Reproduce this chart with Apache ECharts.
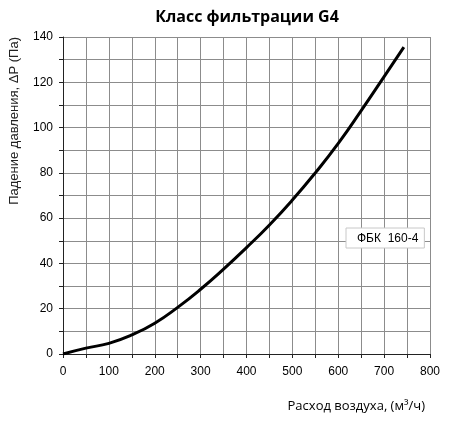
<!DOCTYPE html>
<html>
<head>
  <meta charset="utf-8">
  <title>Класс фильтрации G4</title>
  <script src="https://cdn.jsdelivr.net/npm/echarts@6/dist/echarts.min.js"></script>
  <style>
    html, body { margin: 0; padding: 0; background: #fff; }
    #chart { width: 452px; height: 422px; }
  </style>
</head>
<body>
  <div id="chart"></div>
  <script>
    // расход воздуха, м3/ч
    const flow = [0, 50, 100, 150, 200, 250, 300, 350, 400, 450, 500, 550, 600, 650, 700, 743];
    // падение давления, Па
    const pressure = [0, 2.6, 4.7, 8.4, 13.6, 20.6, 28.6, 37.5, 47, 57, 68, 80, 93, 107.5, 122.5, 135.5];
    const seriesName = 'ФБК  160-4';

    const chart = echarts.init(document.getElementById('chart'));
    chart.setOption({
      animation: false,
      title: {
        text: 'Класс фильтрации G4',
        left: 242,
        top: 4,
        textAlign: 'center',
        textStyle: { fontFamily: 'Open Sans', fontWeight: 'bold', fontSize: 16, color: '#000' }
      },
      legend: {
        data: [seriesName],
        left: 346,
        top: 228,
        icon: 'none',
        itemWidth: 0,
        itemGap: 0,
        padding: [4, 6, 3, 6],
        backgroundColor: '#fff',
        borderColor: '#c8c8c8',
        borderWidth: 1,
        textStyle: { fontFamily: 'Liberation Sans', fontSize: 12, color: '#000' }
      },
      grid: { left: 63, right: 22, top: 37, bottom: 68 },
      xAxis: {
        type: 'value',
        min: 0,
        max: 800,
        interval: 50,
        name: 'Расход воздуха, (м³/ч)',
        nameLocation: 'end',
        nameGap: -5,
        nameTextStyle: {
          fontFamily: 'Open Sans', fontSize: 13, color: '#000',
          align: 'right', verticalAlign: 'top', padding: [46, 0, 0, 0]
        },
        axisLine: { lineStyle: { color: '#222', width: 1 } },
        axisTick: { show: true, inside: false, length: 4, lineStyle: { color: '#222' } },
        axisLabel: {
          margin: 12,
          fontFamily: 'Liberation Sans', fontSize: 12, color: '#000',
          formatter: v => (v % 100 === 0 ? String(v) : '')
        },
        splitLine: { show: true, lineStyle: { color: '#8c8c8c', width: 1 } }
      },
      yAxis: {
        type: 'value',
        min: 0,
        max: 140,
        interval: 10,
        name: 'Падение давления, ΔP (Па)',
        nameLocation: 'end',
        nameRotate: 90,
        nameGap: 0,
        nameTextStyle: {
          fontFamily: 'Liberation Sans', fontSize: 13, color: '#222',
          align: 'right', verticalAlign: 'bottom', padding: [0, 0, 42, 0]
        },
        axisLine: { show: true, lineStyle: { color: '#222', width: 1 } },
        axisTick: { show: true, inside: false, length: 4, lineStyle: { color: '#222' } },
        axisLabel: {
          margin: 10,
          fontFamily: 'Liberation Sans', fontSize: 12, color: '#000',
          formatter: v => (v % 20 === 0 ? String(v) : '')
        },
        splitLine: { show: true, lineStyle: { color: '#8c8c8c', width: 1 } }
      },
      series: [{
        name: seriesName,
        type: 'line',
        smooth: true,
        showSymbol: false,
        data: flow.map((x, i) => [x, pressure[i]]),
        lineStyle: { color: '#000', width: 3 },
        itemStyle: { color: '#000' }
      }]
    });
  </script>
</body>
</html>
